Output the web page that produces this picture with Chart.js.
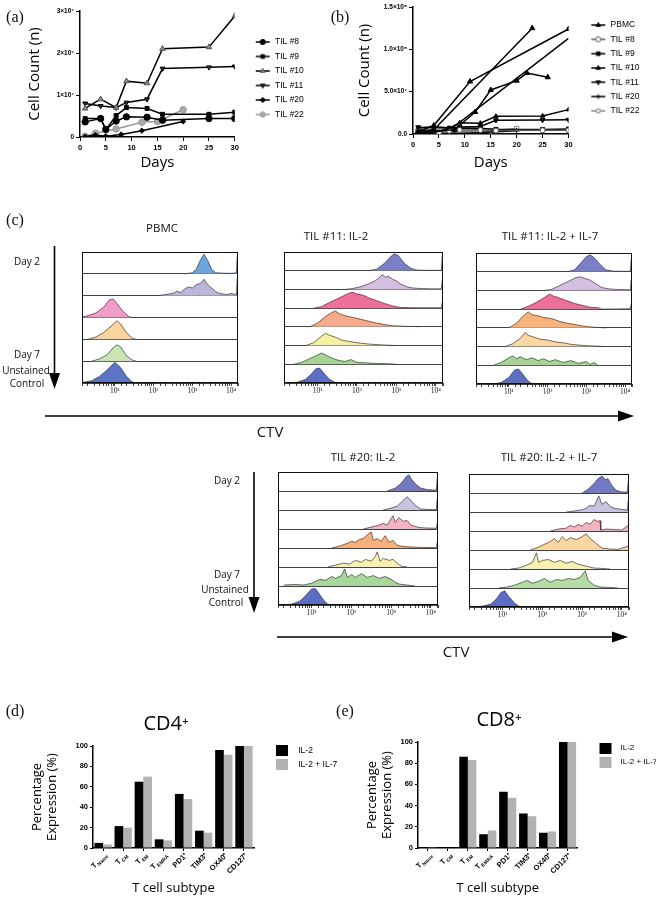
<!DOCTYPE html>
<html>
<head>
<meta charset="utf-8">
<script src="https://cdn.jsdelivr.net/npm/chart.js@4.4.1/dist/chart.umd.min.js"></script>
<style>
  body { margin: 0; background: #fff; }
  #page { position: relative; width: 662px; height: 901px; overflow: hidden; font-family: 'Open Sans', sans-serif; color: #111; }
  canvas { position: absolute; }
  svg { position: absolute; left: 0; top: 0; }
  .c { position: absolute; white-space: nowrap; line-height: 1; transform: translate(-50%, -50%); }
  .panel { font-family: 'Liberation Serif', serif; font-size: 16px; }
  .htitle { font-size: 11.5px; }
  .side { font-size: 10px; }
  .ctv { font-size: 15px; }
</style>
</head>
<body>
<div id="page">
  <canvas id="chartA" width="330" height="175" style="left:0;top:0"></canvas>
  <canvas id="chartB" width="332" height="175" style="left:330px;top:0"></canvas>

  <canvas id="hPbmc" width="176" height="156" style="left:72px;top:245px"></canvas>
  <canvas id="h11a" width="179" height="156" style="left:274px;top:245px"></canvas>
  <canvas id="h11b" width="176" height="156" style="left:466px;top:246px"></canvas>
  <canvas id="h20a" width="180" height="158" style="left:268px;top:465px"></canvas>
  <canvas id="h20b" width="180" height="158" style="left:459px;top:467px"></canvas>

  <canvas id="chartD" width="352" height="200" style="left:-10px;top:700px"></canvas>
  <canvas id="chartE" width="324" height="200" style="left:332px;top:700px"></canvas>

  <svg width="662" height="901">
    <g stroke="#000" stroke-width="1.6" fill="#000">
      <line x1="54.5" y1="246" x2="54.5" y2="376" />
      <polygon points="49,373 60,373 54.5,389" stroke="none" />
      <line x1="45" y1="416" x2="620" y2="416" />
      <polygon points="618,410.5 618,421.5 634,416" stroke="none" />
      <line x1="254" y1="472" x2="254" y2="599" />
      <polygon points="248.5,597 259.5,597 254,613" stroke="none" />
      <line x1="277" y1="637" x2="614" y2="637" />
      <polygon points="612,631.5 612,642.5 628,637" stroke="none" />
    </g>
  </svg>

  <div class="c panel" style="left:15px;top:17px">(a)</div>
  <div class="c panel" style="left:340px;top:17px">(b)</div>
  <div class="c panel" style="left:15px;top:220px">(c)</div>
  <div class="c panel" style="left:15px;top:711px">(d)</div>
  <div class="c panel" style="left:345px;top:711px">(e)</div>

  <div class="c htitle" style="left:162px;top:228px">PBMC</div>
  <div class="c htitle" style="left:336px;top:236px">TIL #11: IL-2</div>
  <div class="c htitle" style="left:550px;top:236px">TIL #11: IL-2 + IL-7</div>
  <div class="c htitle" style="left:363px;top:457px">TIL #20: IL-2</div>
  <div class="c htitle" style="left:549px;top:457px">TIL #20: IL-2 + IL-7</div>

  <div class="c side" style="left:27px;top:261px">Day 2</div>
  <div class="c side" style="left:27px;top:354px">Day 7</div>
  <div class="c side" style="left:26px;top:370px">Unstained</div>
  <div class="c side" style="left:27px;top:383px">Control</div>
  <div class="c side" style="left:227px;top:480px">Day 2</div>
  <div class="c side" style="left:227px;top:574px">Day 7</div>
  <div class="c side" style="left:225px;top:589px">Unstained</div>
  <div class="c side" style="left:226px;top:602px">Control</div>

  <div class="c ctv" style="left:270px;top:431px">CTV</div>
  <div class="c ctv" style="left:456px;top:651px">CTV</div>
</div>

<script>
Chart.defaults.font.family = "'Liberation Sans', sans-serif";
Chart.defaults.color = '#000';
Chart.defaults.animation = false;

// ---- (a)/(b) cell counts, values x10^6 cells ----
const M = 1e6;
const til8Days = [1, 4, 5, 7, 9, 13, 16, 25, 30];
const til8 = [3.6, 4.4, 1.8, 3.8, 4.8, 4.7, 4.0, 4.4, 4.4];
const til9Days = [1, 4, 5, 7, 9, 13, 16, 25, 30];
const til9 = [4.4, 4.4, 1.7, 5.1, 7.0, 6.8, 5.4, 5.4, 5.9];
const til10Days = [1, 4, 7, 9, 13, 16, 25, 30];
const til10 = [6.8, 9.0, 7.0, 13.3, 12.8, 21.0, 21.4, 28.8];
const til11Days = [1, 4, 7, 9, 13, 16, 25, 30];
const til11 = [8.0, 7.4, 7.0, 8.2, 9.0, 16.3, 16.6, 16.8];
const til20Days = [1, 3, 5, 8, 12, 20];
const til20 = [0.1, 0.5, 0.2, 0.6, 1.5, 3.7];
const til22Days = [1, 3, 7, 12, 15, 20];
const til22 = [0.2, 0.9, 1.9, 3.5, 3.7, 6.5];

const pbmcADays = [1, 4, 11, 30];
const pbmcA = [3, 10, 62, 124];
const pbmcBDays = [1, 4, 23];
const pbmcB = [2, 5, 125];
const pbmcCDays = [1, 5, 8, 30];
const pbmcC = [1, 3, 9, 113];
const pbmcDDays = [1, 8, 12, 15, 20, 22, 26];
const pbmcD = [3, 5, 26, 52, 63, 72, 67];

const aTickLabels = ['0', '1×10⁷', '2×10⁷', '3×10⁷'];
const bTickLabels = ['0.0', '5.0×10⁷', '1.0×10⁸', '1.5×10⁸'];

// ---- (c) CTV histograms: [log10 CTV, relative height] per row, Day 2 at top ----
const pbmcRows = [
  [[2.8, 0], [3.0, 0.05], [3.1, 0.2], [3.2, 0.6], [3.3, 0.9], [3.4, 0.6], [3.5, 0.2], [3.6, 0.05], [3.8, 0.03], [4.0, 0.02], [4.14, 0.05], [4.16, 0.8]],
  [[2.1, 0], [2.3, 0.05], [2.5, 0.1], [2.6, 0.2], [2.7, 0.15], [2.8, 0.3], [2.9, 0.4], [3.0, 0.35], [3.1, 0.5], [3.2, 0.55], [3.3, 0.75], [3.4, 0.5], [3.5, 0.35], [3.6, 0.2], [3.7, 0.1], [3.9, 0.05], [4.0, 0.1], [4.14, 0.05], [4.16, 0.8]],
  [[0.15, 0.02], [0.3, 0.08], [0.5, 0.2], [0.7, 0.45], [0.85, 0.8], [0.95, 0.85], [1.05, 0.65], [1.2, 0.3], [1.35, 0.05], [1.45, 0]],
  [[0.3, 0], [0.5, 0.1], [0.7, 0.3], [0.9, 0.6], [1.05, 0.85], [1.15, 0.7], [1.3, 0.3], [1.45, 0.05], [1.55, 0]],
  [[0.4, 0], [0.6, 0.1], [0.8, 0.3], [0.95, 0.6], [1.05, 0.75], [1.15, 0.65], [1.3, 0.25], [1.45, 0.05], [1.55, 0]],
  [[0.15, 0.02], [0.4, 0.1], [0.6, 0.3], [0.8, 0.6], [1.0, 0.95], [1.15, 0.7], [1.3, 0.3], [1.45, 0.05], [1.55, 0]],
];
const pbmcColors = ['#6fa3dc', '#bcb6da', '#f29cc8', '#fad49c', '#c9e5b3', '#5b74c4'];

const til11aRows = [
  [[2.3, 0], [2.5, 0.08], [2.7, 0.4], [2.85, 0.75], [2.95, 0.9], [3.05, 0.8], [3.2, 0.4], [3.35, 0.15], [3.5, 0.04], [3.7, 0.02], [4.0, 0.02], [4.14, 0.02], [4.16, 0.8]],
  [[1.7, 0], [1.9, 0.05], [2.1, 0.15], [2.3, 0.3], [2.45, 0.45], [2.55, 0.6], [2.65, 0.8], [2.72, 0.65], [2.8, 0.7], [2.9, 0.55], [3.0, 0.45], [3.1, 0.3], [3.25, 0.15], [3.4, 0.08], [3.6, 0.05], [3.9, 0.03], [4.14, 0.03], [4.16, 0.5]],
  [[0.9, 0], [1.1, 0.08], [1.3, 0.3], [1.5, 0.5], [1.65, 0.65], [1.8, 0.8], [1.9, 0.85], [2.0, 0.75], [2.15, 0.7], [2.3, 0.55], [2.5, 0.4], [2.7, 0.25], [2.9, 0.12], [3.1, 0.04], [3.4, 0.02], [3.9, 0.02], [4.14, 0.02], [4.16, 0.3]],
  [[0.8, 0], [1.0, 0.2], [1.2, 0.55], [1.35, 0.75], [1.45, 0.85], [1.55, 0.7], [1.7, 0.6], [1.9, 0.5], [2.1, 0.4], [2.3, 0.3], [2.5, 0.2], [2.7, 0.12], [2.9, 0.06], [3.2, 0.03], [3.6, 0.01]],
  [[0.7, 0], [0.9, 0.15], [1.1, 0.5], [1.2, 0.65], [1.3, 0.55], [1.45, 0.45], [1.6, 0.3], [1.8, 0.22], [2.0, 0.15], [2.3, 0.08], [2.6, 0.04], [2.8, 0.02], [3.0, 0]],
  [[0.4, 0], [0.6, 0.1], [0.8, 0.3], [1.0, 0.5], [1.1, 0.6], [1.25, 0.45], [1.4, 0.3], [1.55, 0.2], [1.7, 0.15], [1.85, 0.25], [2.0, 0.1], [2.2, 0.08], [2.4, 0.05], [2.6, 0.04], [2.8, 0.03], [3.0, 0]],
  [[0.3, 0], [0.5, 0.05], [0.7, 0.2], [0.85, 0.5], [0.95, 0.75], [1.05, 0.8], [1.15, 0.55], [1.3, 0.2], [1.45, 0.02], [1.55, 0]],
];
const til11aColors = ['#7a7fc8', '#d4bfe0', '#ee6f98', '#f6ab8c', '#f7f0a2', '#a5d494', '#5c6ec4'];

const til11bRows = [
  [[2.5, 0], [2.7, 0.1], [2.85, 0.45], [3.0, 0.8], [3.1, 0.9], [3.2, 0.75], [3.35, 0.4], [3.5, 0.1], [3.7, 0.03], [4.0, 0.02], [4.14, 0.02], [4.16, 0.7]],
  [[1.9, 0], [2.1, 0.05], [2.3, 0.25], [2.45, 0.4], [2.6, 0.55], [2.75, 0.7], [2.85, 0.72], [2.95, 0.65], [3.1, 0.55], [3.25, 0.35], [3.4, 0.15], [3.6, 0.08], [3.8, 0.05], [4.14, 0.03], [4.16, 0.6]],
  [[1.3, 0], [1.5, 0.15], [1.7, 0.35], [1.9, 0.6], [2.05, 0.8], [2.15, 0.7], [2.3, 0.6], [2.5, 0.45], [2.7, 0.3], [2.9, 0.2], [3.1, 0.1], [3.3, 0.08], [3.4, 0], [4.14, 0.02], [4.16, 0.3]],
  [[1.0, 0], [1.2, 0.25], [1.35, 0.6], [1.5, 0.85], [1.6, 0.7], [1.75, 0.65], [1.9, 0.55], [2.1, 0.5], [2.3, 0.35], [2.5, 0.25], [2.7, 0.18], [2.9, 0.1], [3.1, 0.05], [3.3, 0.02], [3.5, 0]],
  [[0.9, 0], [1.1, 0.15], [1.3, 0.45], [1.42, 0.75], [1.5, 0.6], [1.65, 0.5], [1.8, 0.4], [2.0, 0.35], [2.2, 0.25], [2.4, 0.2], [2.6, 0.12], [2.8, 0.08], [3.0, 0.05], [3.3, 0.02], [3.5, 0]],
  [[0.6, 0], [0.8, 0.15], [1.0, 0.4], [1.1, 0.5], [1.2, 0.35], [1.3, 0.45], [1.45, 0.3], [1.6, 0.4], [1.75, 0.25], [1.9, 0.35], [2.05, 0.2], [2.2, 0.3], [2.4, 0.15], [2.6, 0.25], [2.8, 0.1], [3.0, 0.2], [3.1, 0.05], [3.2, 0.15], [3.3, 0]],
  [[0.6, 0], [0.8, 0.08], [1.0, 0.35], [1.15, 0.75], [1.25, 0.8], [1.35, 0.55], [1.5, 0.15], [1.6, 0.02], [1.7, 0]],
];
const til11bColors = ['#7a7fc8', '#d4bfe0', '#ee6f98', '#f7b27c', '#f9d8a2', '#a5d494', '#5c6ec4'];

const til20aRows = [
  [[2.9, 0], [3.1, 0.15], [3.25, 0.4], [3.38, 0.75], [3.45, 0.85], [3.52, 0.6], [3.62, 0.35], [3.75, 0.15], [3.9, 0.08], [4.05, 0.05], [4.14, 0.05], [4.16, 0.7]],
  [[2.8, 0], [3.0, 0.1], [3.15, 0.2], [3.3, 0.5], [3.4, 0.7], [3.5, 0.5], [3.6, 0.25], [3.75, 0.05], [4.0, 0.02], [4.14, 0.02], [4.16, 0.6]],
  [[2.3, 0], [2.5, 0.1], [2.7, 0.2], [2.8, 0.3], [2.9, 0.2], [3.0, 0.55], [3.05, 0.7], [3.1, 0.35], [3.2, 0.6], [3.3, 0.4], [3.4, 0.45], [3.5, 0.2], [3.7, 0.08], [3.9, 0.05], [4.14, 0.04], [4.16, 0.3]],
  [[1.5, 0], [1.7, 0.1], [1.9, 0.25], [2.0, 0.35], [2.1, 0.3], [2.2, 0.45], [2.3, 0.5], [2.4, 0.7], [2.5, 0.85], [2.55, 0.4], [2.65, 0.5], [2.75, 0.35], [2.85, 0.65], [2.95, 0.3], [3.05, 0.4], [3.15, 0.15], [3.3, 0.08], [3.5, 0.05], [3.8, 0.03], [4.14, 0.02], [4.16, 0.3]],
  [[1.4, 0], [1.6, 0.1], [1.8, 0.2], [1.95, 0.15], [2.1, 0.35], [2.25, 0.25], [2.35, 0.4], [2.5, 0.3], [2.6, 0.55], [2.65, 0.8], [2.72, 0.3], [2.8, 0.45], [2.95, 0.35], [3.05, 0.4], [3.15, 0.2], [3.25, 0.05], [3.4, 0]],
  [[0.3, 0.05], [0.6, 0.08], [0.8, 0.05], [1.0, 0.15], [1.2, 0.35], [1.35, 0.3], [1.5, 0.5], [1.6, 0.4], [1.75, 0.55], [1.83, 0.9], [1.9, 0.45], [2.0, 0.6], [2.1, 0.45], [2.25, 0.65], [2.4, 0.45], [2.55, 0.55], [2.7, 0.4], [2.85, 0.5], [3.0, 0.35], [3.1, 0.2], [3.2, 0.1], [3.4, 0.05], [3.6, 0]],
  [[0.3, 0], [0.5, 0.05], [0.7, 0.2], [0.85, 0.5], [1.0, 0.85], [1.1, 0.85], [1.2, 0.55], [1.3, 0.25], [1.4, 0.05], [1.5, 0]],
];
const til20aColors = ['#7479c4', '#c8c3e2', '#f5b3c3', '#f6b07c', '#f9f1b0', '#a9d69a', '#5c6ec4'];

const til20bRows = [
  [[3.0, 0], [3.15, 0.2], [3.3, 0.5], [3.4, 0.75], [3.5, 0.9], [3.58, 0.7], [3.65, 0.75], [3.75, 0.4], [3.85, 0.15], [4.0, 0.05], [4.14, 0.05], [4.16, 0.6]],
  [[2.6, 0], [2.8, 0.05], [3.0, 0.12], [3.1, 0.2], [3.2, 0.35], [3.3, 0.3], [3.42, 0.85], [3.5, 0.4], [3.6, 0.55], [3.7, 0.3], [3.8, 0.2], [3.95, 0.15], [4.14, 0.1], [4.16, 0.6]],
  [[2.2, 0], [2.4, 0.1], [2.6, 0.15], [2.7, 0.3], [2.8, 0.2], [2.9, 0.35], [3.0, 0.25], [3.1, 0.45], [3.2, 0.35], [3.3, 0.6], [3.4, 0.5], [3.45, 0.55], [3.47, 0.05], [3.6, 0.1], [3.8, 0.08], [4.0, 0.05], [4.16, 0.3]],
  [[1.7, 0], [1.9, 0.15], [2.05, 0.3], [2.2, 0.45], [2.3, 0.6], [2.4, 0.4], [2.5, 0.7], [2.6, 0.5], [2.7, 0.65], [2.85, 0.55], [3.0, 0.7], [3.1, 0.85], [3.2, 0.6], [3.35, 0.35], [3.5, 0.1], [3.7, 0.05], [3.9, 0.03], [4.16, 0.2]],
  [[1.2, 0], [1.4, 0.05], [1.6, 0.2], [1.75, 0.35], [1.85, 0.85], [1.9, 0.35], [2.0, 0.45], [2.15, 0.5], [2.3, 0.35], [2.45, 0.45], [2.6, 0.3], [2.75, 0.4], [2.9, 0.25], [3.1, 0.15], [3.3, 0.05], [3.5, 0.03], [3.7, 0]],
  [[0.9, 0], [1.1, 0.05], [1.3, 0.15], [1.5, 0.3], [1.6, 0.4], [1.75, 0.25], [1.9, 0.35], [2.05, 0.5], [2.2, 0.3], [2.35, 0.45], [2.5, 0.4], [2.65, 0.5], [2.8, 0.45], [2.95, 0.55], [3.08, 0.9], [3.15, 0.4], [3.3, 0.15], [3.45, 0.05], [3.7, 0.03], [3.9, 0]],
  [[0.3, 0], [0.5, 0.05], [0.7, 0.15], [0.85, 0.45], [0.95, 0.75], [1.05, 0.85], [1.15, 0.55], [1.3, 0.2], [1.4, 0.05], [1.5, 0]],
];
const til20bColors = ['#7479c4', '#c8c3e2', '#f5b3c3', '#fad7a0', '#f9f1b0', '#b5dca5', '#5c6ec4'];

// ---- (d)/(e) subtype expression, % ----
const subtypeMain = ['T', 'T', 'T', 'T', 'PD1⁺', 'TIM3⁺', 'OX40⁺', 'CD127⁺'];
const subtypeSub = ['Naive', 'CM', 'EM', 'EMRA', '', '', '', ''];
const subtypes = subtypeMain.map((m, i) => m + subtypeSub[i]);
const cd4IL2 = [5, 21.5, 65, 8.5, 53, 17, 96, 100];
const cd4IL27 = [3.5, 20, 70, 7.5, 48, 15, 91.5, 100];
const cd8IL2 = [0.3, 1, 86, 13, 53, 32.5, 14.5, 100];
const cd8IL27 = [0.2, 0.4, 83, 16.5, 47.5, 30, 15.5, 100];

const sup = ['⁰', '¹', '²', '³', '⁴'];
const tickFont = { size: 7.5, weight: 'bold' };
const axisTitleFont = { family: "'Open Sans', sans-serif", size: 15 };
const axisLine = { display: true, color: '#000', width: 1.5 };

// legend icon: short line + marker drawn at the right end of a w-wide image
function lineIcon(w, st) {
  const c = document.createElement('canvas');
  c.width = w; c.height = 10;
  const ctx = c.getContext('2d');
  ctx.strokeStyle = st.borderColor;
  ctx.lineWidth = 1.5;
  ctx.beginPath(); ctx.moveTo(w - 15, 5); ctx.lineTo(w - 1, 5); ctx.stroke();
  ctx.fillStyle = st.pointBackgroundColor;
  ctx.strokeStyle = st.pointBorderColor;
  ctx.lineWidth = 1;
  const r = Math.min(st.pointRadius || 2.5, 2.6);
  Chart.helpers.drawPoint(ctx, { pointStyle: st.pointStyle, radius: r, rotation: st.pointRotation || 0, borderWidth: 1 }, w - 8, 5);
  return c;
}

function barIcon(w, x0, color) {
  const c = document.createElement('canvas');
  c.width = w; c.height = 11;
  const ctx = c.getContext('2d');
  ctx.fillStyle = color;
  ctx.fillRect(x0, 0, 12, 11);
  return c;
}

// empty legend title used only to set where the first legend row sits
const legendOffset = h => ({ display: true, text: '', font: { size: 4 }, padding: { top: h - 4.8, bottom: 0 } });

const mk = (color, style, r, fill, rot) => ({
  borderColor: color, borderWidth: 1.5, pointStyle: style, pointRadius: r,
  pointBackgroundColor: fill, pointBorderColor: color, pointBorderWidth: 1, pointRotation: rot || 0,
});

const series = (label, days, vals, st) => ({
  label, data: days.map((d, i) => ({ x: d, y: vals[i] * M })), tension: 0, ...st,
});

function lineLegend(iconW, pad, offset) {
  return {
    position: 'right', align: 'start',
    title: legendOffset(offset),
    labels: {
      usePointStyle: true, pointStyleWidth: iconW, padding: pad,
      font: { size: 8.5 }, color: '#000',
      generateLabels: chart => chart.data.datasets
        .map((ds, i) => ({ text: ds.label, pointStyle: lineIcon(iconW, ds), datasetIndex: i, lineWidth: 0, hidden: false, fontColor: '#000' }))
        .filter(it => !chart.data.datasets[it.datasetIndex].noLegend),
    },
  };
}

function countScales(max, step, labels, yWidth, xHeight) {
  return {
    x: {
      type: 'linear', min: 0, max: 30,
      ticks: { stepSize: 5, font: tickFont, padding: 2 },
      grid: { drawOnChartArea: false, color: '#000', tickLength: 4 },
      border: axisLine,
      title: { display: true, text: 'Days', font: axisTitleFont, padding: { top: 0, bottom: 3 } },
      afterFit: s => { s.height = xHeight; },
    },
    y: {
      min: 0, max,
      ticks: { stepSize: step, font: { size: 6.5, weight: 'bold' }, padding: 2, callback: v => labels[Math.round(v / step)] },
      grid: { drawOnChartArea: false, color: '#000', tickLength: 4 },
      border: axisLine,
      title: { display: true, text: 'Cell Count (n)', font: axisTitleFont, padding: { top: 26, bottom: 0 } },
      afterFit: s => { s.width = yWidth; },
    },
  };
}

// (a)
const aStyles = [
  mk('#000', 'circle', 3.2, '#000'),
  mk('#000', 'rect', 2.8, '#000'),
  { ...mk('#000', 'triangle', 3.2, '#8a8a8a'), pointBorderColor: '#555' },
  mk('#000', 'triangle', 2.8, '#333', 180),
  mk('#000', 'rectRot', 2.6, '#000'),
  mk('#999', 'circle', 3.2, '#aaa'),
];
new Chart(document.getElementById('chartA'), {
  type: 'line',
  data: {
    datasets: [
      series('TIL #8', til8Days, til8, aStyles[0]),
      series('TIL #9', til9Days, til9, aStyles[1]),
      series('TIL #10', til10Days, til10, aStyles[2]),
      series('TIL #11', til11Days, til11, aStyles[3]),
      series('TIL #20', til20Days, til20, aStyles[4]),
      series('TIL #22', til22Days, til22, aStyles[5]),
    ],
  },
  options: {
    responsive: false, events: [],
    layout: { padding: { top: 11, right: 17, left: 0, bottom: 0 } },
    plugins: { legend: lineLegend(30, 6, 20.75), tooltip: { enabled: false } },
    scales: countScales(3e7, 1e7, aTickLabels, 80, 38),
  },
});

// (b)
const pbmcStyle = mk('#000', 'triangle', 3, '#000');
const bStyles = [
  mk('#555', 'circle', 2.5, '#fff'),
  mk('#000', 'rect', 2.8, '#000'),
  mk('#000', 'triangle', 2.5, '#000'),
  mk('#000', 'triangle', 2.8, '#000', 180),
  mk('#000', 'cross', 3, '#000'),
  mk('#888', 'rect', 3, '#fff'),
];
new Chart(document.getElementById('chartB'), {
  type: 'line',
  data: {
    datasets: [
      series('PBMC', pbmcADays, pbmcA, pbmcStyle),
      { ...series('PBMC', pbmcBDays, pbmcB, pbmcStyle), noLegend: true },
      { ...series('PBMC', pbmcCDays, pbmcC, { ...pbmcStyle, pointRadius: 0 }), noLegend: true },
      { ...series('PBMC', pbmcDDays, pbmcD, pbmcStyle), noLegend: true },
      series('TIL #8', til8Days, til8, bStyles[0]),
      series('TIL #9', til9Days, til9, bStyles[1]),
      series('TIL #10', til10Days, til10, bStyles[2]),
      series('TIL #11', til11Days, til11, bStyles[3]),
      series('TIL #20', til20Days, til20, bStyles[4]),
      series('TIL #22', til22Days, til22, bStyles[5]),
    ],
  },
  options: {
    responsive: false, events: [],
    layout: { padding: { top: 7, right: 14, left: 0, bottom: 0 } },
    plugins: { legend: lineLegend(32, 5.8, 8), tooltip: { enabled: false } },
    scales: countScales(1.5e8, 5e7, bTickLabels, 83, 41),
  },
});

// (c) histograms
const frame = {
  id: 'frame',
  afterDatasetsDraw(chart) {
    const { ctx, chartArea: a } = chart;
    ctx.save();
    ctx.strokeStyle = '#111';
    ctx.lineWidth = 1;
    ctx.strokeRect(a.left + 0.5, a.top + 0.5, a.width - 1, a.height - 1);
    ctx.restore();
  },
};

function powLabel(v) {
  const e = Math.log10(v);
  const r = Math.round(e);
  return Math.abs(e - r) < 1e-6 && r >= 1 ? '10' + sup[r] : '';
}

function histChart(id, rows, colors) {
  const n = rows.length;
  new Chart(document.getElementById(id), {
    type: 'line',
    data: {
      datasets: rows.map((row, i) => ({
        data: row.map(([lx, h]) => ({ x: Math.pow(10, lx), y: n - 1 - i + h })),
        fill: { value: n - 1 - i },
        backgroundColor: colors[i],
        borderColor: '#333',
        borderWidth: 0.7,
        pointRadius: 0,
        tension: 0,
      })),
    },
    options: {
      responsive: false, events: [],
      layout: { padding: { left: 10, right: 10, top: 7, bottom: 0 } },
      plugins: { legend: { display: false }, tooltip: { enabled: false } },
      scales: {
        x: {
          type: 'logarithmic', min: Math.pow(10, 0.15), max: Math.pow(10, 4.18),
          ticks: { autoSkip: false, maxRotation: 0, padding: 1, color: '#222', font: { family: "'Liberation Serif', serif", size: 7.5 }, callback: v => powLabel(v) },
          grid: { drawOnChartArea: false, tickLength: 3, color: '#444' },
          border: { display: false },
          afterFit: s => { s.height = 18; },
        },
        y: {
          min: 0, max: n,
          ticks: { display: false, stepSize: 1 },
          grid: { color: '#111', lineWidth: 0.8, drawTicks: false },
          border: { display: false },
          afterFit: s => { s.width = 0; },
        },
      },
    },
    plugins: [frame],
  });
}

histChart('hPbmc', pbmcRows, pbmcColors);
histChart('h11a', til11aRows, til11aColors);
histChart('h11b', til11bRows, til11bColors);
histChart('h20a', til20aRows, til20aColors);
histChart('h20b', til20bRows, til20bColors);

// (d)/(e) bars with subscripted, rotated category labels
const subLabels = {
  id: 'subLabels',
  afterDraw(chart) {
    const { ctx } = chart;
    const x = chart.scales.x;
    subtypes.forEach((_, i) => {
      const px = x.getPixelForValue(i);
      const main = subtypeMain[i];
      const sub = subtypeSub[i];
      ctx.save();
      ctx.translate(px + 3, x.top + 6);
      ctx.rotate(-Math.PI / 4);
      ctx.fillStyle = '#000';
      ctx.textBaseline = 'middle';
      ctx.font = "bold 7.5px 'Liberation Sans', sans-serif";
      const w1 = ctx.measureText(main).width;
      ctx.font = "bold 5px 'Liberation Sans', sans-serif";
      const w2 = ctx.measureText(sub).width;
      const start = -(w1 + w2 + (sub ? 1 : 0));
      ctx.font = "bold 7.5px 'Liberation Sans', sans-serif";
      ctx.fillText(main, start, 0);
      if (sub) {
        ctx.font = "bold 5px 'Liberation Sans', sans-serif";
        ctx.fillText(sub, start + w1 + 1, 2.5);
      }
      ctx.restore();
    });
  },
};

function barChart(id, title, il2, il27, o) {
  new Chart(document.getElementById(id), {
    type: 'bar',
    data: {
      labels: subtypes,
      datasets: [
        { label: 'IL-2', data: il2, backgroundColor: '#000' },
        { label: 'IL-2 + IL-7', data: il27, backgroundColor: '#b2b2b2' },
      ],
    },
    options: {
      responsive: false, events: [],
      categoryPercentage: 0.86, barPercentage: 1,
      layout: { padding: { left: o.padL, right: 0, top: 0, bottom: 0 } },
      plugins: {
        title: { display: true, text: title, color: '#000', font: { family: "'Open Sans', sans-serif", size: 20, weight: 'normal' }, padding: { top: o.titleTop, bottom: 10 } },
        legend: {
          position: 'right', align: 'start',
          title: legendOffset(o.legendTop),
          labels: {
            usePointStyle: true, pointStyleWidth: o.iconW, padding: 6,
            font: { size: o.legendSize }, color: '#000',
            generateLabels: chart => chart.data.datasets.map((ds, i) => ({
              text: ds.label, pointStyle: barIcon(o.iconW, o.iconX, ds.backgroundColor), datasetIndex: i, lineWidth: 0, hidden: false, fontColor: '#000',
            })),
          },
        },
        tooltip: { enabled: false },
      },
      scales: {
        x: {
          grid: { drawOnChartArea: false, offset: false, tickLength: 3, color: '#000' },
          ticks: { display: false },
          border: axisLine,
          title: { display: true, text: 'T cell subtype', font: { family: "'Open Sans', sans-serif", size: 13 }, padding: { top: 0, bottom: 4 } },
          afterFit: s => { s.height = 52; },
        },
        y: {
          min: 0, max: 100,
          ticks: { stepSize: 20, font: tickFont, padding: 2 },
          grid: { drawOnChartArea: false, tickLength: 3, color: '#000' },
          border: axisLine,
          title: { display: true, text: ['Percentage', 'Expression (%)'], font: { family: "'Open Sans', sans-serif", size: 13 }, padding: { top: o.yTitleTop, bottom: 0 } },
          afterFit: s => { s.width = o.yWidth; },
        },
      },
    },
    plugins: [subLabels],
  });
}

barChart('chartD', 'CD4⁺', cd4IL2, cd4IL27, { padL: 0, iconW: 34, iconX: 16, yWidth: 103, yTitleTop: 39, titleTop: 12, legendTop: 40, legendSize: 8.5 });
barChart('chartE', 'CD8⁺', cd8IL2, cd8IL27, { padL: 10, iconW: 33, iconX: 16, yWidth: 76, yTitleTop: 22, titleTop: 8, legendTop: 38, legendSize: 8 });
</script>
</body>
</html>
